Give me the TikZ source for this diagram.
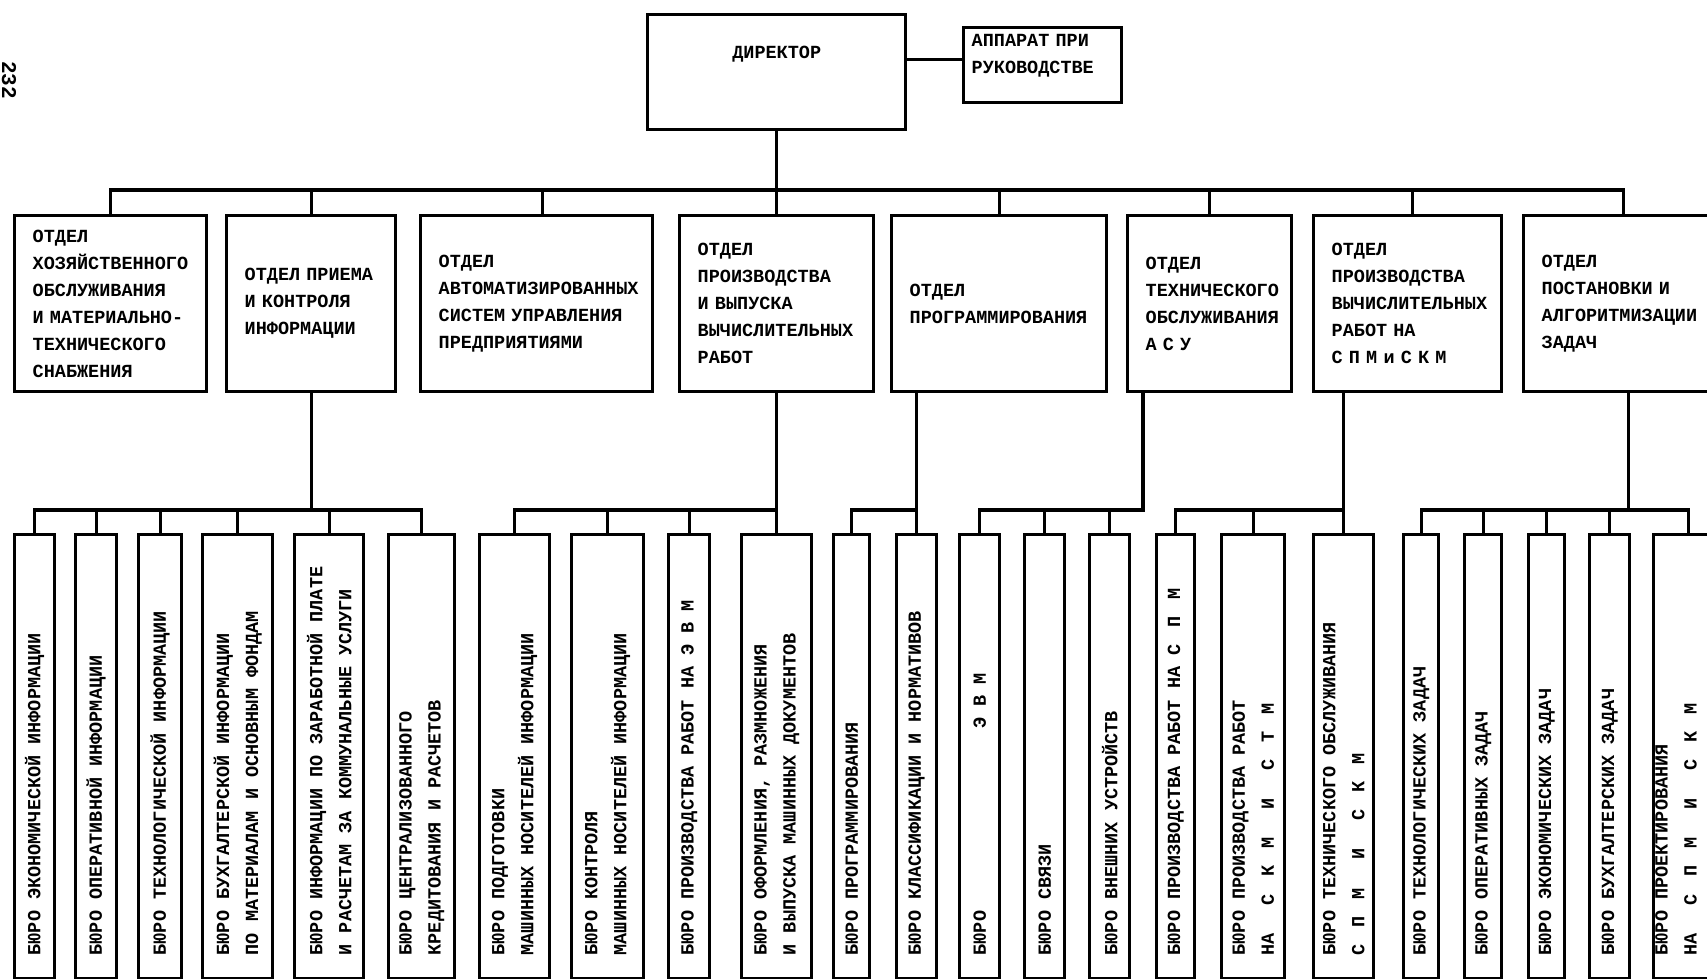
\documentclass[tikz,border=0pt]{standalone}
\usepackage{fontspec}
\newfontfamily\monof{Liberation Mono}
\newcommand\dfont{\monof\bfseries\fontsize{18.5}{27}\selectfont}
\newcommand\bfnt{\monof\bfseries\fontsize{18.5}{29}\selectfont}
\newcommand\sgap{\hspace{17pt}}
\newcommand\lgap{\hspace{28pt}}
\begin{document}
\begin{tikzpicture}[x=1pt,y=-1pt,
  box/.style={draw, line width=3.4pt, rectangle, inner sep=0pt},
  dept/.style={box, anchor=north west, align=left, inner xsep=18pt, inner ysep=3pt, minimum height=176pt, font=\dfont},
  bur/.style={box, anchor=north west, minimum height=444pt},
  btext/.style={rotate=90, anchor=west, align=left, inner sep=0pt, font=\bfnt},
  conn/.style={line width=3.2pt, line join=miter}
]
\fill[white] (0,0) rectangle (1707,979);
\useasboundingbox (0,0) rectangle (1707,979);

% page number
\node[rotate=-90, font=\monof\bfseries\fontsize{21}{21}\selectfont, inner sep=0pt] (pg) at (9,80) {232};

% top
\node[box, anchor=north west, minimum width=258pt, minimum height=115pt, text depth=40pt, font=\dfont] (dir) at (646,13) {ДИРЕКТОР};
\node[box, anchor=north west, minimum width=158pt, minimum height=75pt, text width=142pt, inner xsep=8pt, align=left, font=\dfont] (app) at (962,26) {АППАРАТ~ПРИ\\РУКОВОДСТВЕ\rule[-23pt]{0pt}{23pt}};
\draw[conn] ([yshift=6pt]app.west) -- ([yshift=6pt]app.west -| dir.east);

% departments
\node[dept, text width=156pt] (d1) at (13,214) {ОТДЕЛ\\ХОЗЯЙСТВЕННОГО\\ОБСЛУЖИВАНИЯ\\И~МАТЕРИАЛЬНО-\\ТЕХНИЧЕСКОГО\\СНАБЖЕНИЯ};
\node[dept, text width=133pt] (d2) at (225,214) {ОТДЕЛ~ПРИЕМА\\И~КОНТРОЛЯ\\ИНФОРМАЦИИ};
\node[dept, text width=196pt] (d3) at (419,214) {ОТДЕЛ\\АВТОМАТИЗИРОВАННЫХ\\СИСТЕМ~УПРАВЛЕНИЯ\\ПРЕДПРИЯТИЯМИ};
\node[dept, text width=158pt] (d4) at (678,214) {ОТДЕЛ\\ПРОИЗВОДСТВА\\И~ВЫПУСКА\\ВЫЧИСЛИТЕЛЬНЫХ\\РАБОТ};
\node[dept, text width=179pt] (d5) at (890,214) {ОТДЕЛ\\ПРОГРАММИРОВАНИЯ};
\node[dept, text width=128pt] (d6) at (1126,214) {ОТДЕЛ\\ТЕХНИЧЕСКОГО\\ОБСЛУЖИВАНИЯ\\А~С~У};
\node[dept, text width=152pt] (d7) at (1312,214) {ОТДЕЛ\\ПРОИЗВОДСТВА\\ВЫЧИСЛИТЕЛЬНЫХ\\РАБОТ~НА\\С~П~М~и~С~К~М};
\node[dept, text width=164pt] (d8) at (1522,214) {ОТДЕЛ\\ПОСТАНОВКИ~И\\АЛГОРИТМИЗАЦИИ\\ЗАДАЧ};

% bureaus
\node[bur, minimum width=40pt] (b1) at (13,533) {};
\node[bur, minimum width=41pt] (b2) at (74,533) {};
\node[bur, minimum width=43pt] (b3) at (137,533) {};
\node[bur, minimum width=70pt] (b4) at (201,533) {};
\node[bur, minimum width=69pt] (b5) at (293,533) {};
\node[bur, minimum width=66pt] (b6) at (387,533) {};
\node[bur, minimum width=70pt] (c1) at (478,533) {};
\node[bur, minimum width=72pt] (c2) at (570,533) {};
\node[bur, minimum width=41pt] (c3) at (667,533) {};
\node[bur, minimum width=70pt] (c4) at (740,533) {};
\node[bur, minimum width=36pt] (dd1) at (832,533) {};
\node[bur, minimum width=40pt] (dd2) at (895,533) {};
\node[bur, minimum width=40pt] (e1) at (958,533) {};
\node[bur, minimum width=40pt] (e2) at (1023,533) {};
\node[bur, minimum width=40pt] (e3) at (1088,533) {};
\node[bur, minimum width=38pt] (f1) at (1155,533) {};
\node[bur, minimum width=63pt] (f2) at (1220,533) {};
\node[bur, minimum width=60pt] (f3) at (1312,533) {};
\node[bur, minimum width=35pt] (g1) at (1402,533) {};
\node[bur, minimum width=37pt] (g2) at (1463,533) {};
\node[bur, minimum width=36pt] (g3) at (1527,533) {};
\node[bur, minimum width=40pt] (g4) at (1588,533) {};
\node[bur, minimum width=70pt] (g5) at (1652,533) {};

% bureau texts
\node[btext] at ([yshift=25pt]b1.south) {БЮРО ЭКОНОМИЧЕСКОЙ ИНФОРМАЦИИ};
\node[btext] at ([yshift=25pt]b2.south) {БЮРО ОПЕРАТИВНОЙ ИНФОРМАЦИИ};
\node[btext] at ([yshift=25pt]b3.south) {БЮРО ТЕХНОЛОГИЧЕСКОЙ ИНФОРМАЦИИ};
\node[btext] at ([yshift=25pt]b4.south) {БЮРО БУХГАЛТЕРСКОЙ ИНФОРМАЦИИ\\ПО МАТЕРИАЛАМ И ОСНОВНЫМ ФОНДАМ};
\node[btext] at ([yshift=25pt]b5.south) {БЮРО ИНФОРМАЦИИ ПО ЗАРАБОТНОЙ ПЛАТЕ\\И РАСЧЕТАМ ЗА КОММУНАЛЬНЫЕ УСЛУГИ};
\node[btext] at ([yshift=25pt]b6.south) {БЮРО ЦЕНТРАЛИЗОВАННОГО\\КРЕДИТОВАНИЯ И РАСЧЕТОВ};
\node[btext] at ([yshift=25pt]c1.south) {БЮРО ПОДГОТОВКИ\\МАШИННЫХ НОСИТЕЛЕЙ ИНФОРМАЦИИ};
\node[btext] at ([yshift=25pt]c2.south) {БЮРО КОНТРОЛЯ\\МАШИННЫХ НОСИТЕЛЕЙ ИНФОРМАЦИИ};
\node[btext] at ([yshift=25pt]c3.south) {БЮРО ПРОИЗВОДСТВА РАБОТ НА Э В М};
\node[btext] at ([yshift=25pt]c4.south) {БЮРО ОФОРМЛЕНИЯ, РАЗМНОЖЕНИЯ\\И ВЫПУСКА МАШИННЫХ ДОКУМЕНТОВ};
\node[btext] at ([yshift=25pt]dd1.south) {БЮРО ПРОГРАММИРОВАНИЯ};
\node[btext] at ([yshift=25pt]dd2.south) {БЮРО КЛАССИФИКАЦИИ И НОРМАТИВОВ};
\node[btext] at ([yshift=25pt]e1.south) {БЮРО\hspace{182pt}Э В М};
\node[btext] at ([yshift=25pt]e2.south) {БЮРО СВЯЗИ};
\node[btext] at ([yshift=25pt]e3.south) {БЮРО ВНЕШНИХ УСТРОЙСТВ};
\node[btext] at ([yshift=25pt]f1.south) {БЮРО ПРОИЗВОДСТВА РАБОТ НА С\sgap П\sgap М};
\node[btext] at ([yshift=25pt]f2.south) {БЮРО ПРОИЗВОДСТВА РАБОТ\\НА\lgap С\sgap К\sgap М\lgap И\lgap С\sgap Т\sgap М};
\node[btext] at ([yshift=25pt]f3.south) {БЮРО ТЕХНИЧЕСКОГО ОБСЛУЖИВАНИЯ\\С\sgap П\sgap М\lgap И\lgap С\sgap К\sgap М};
\node[btext] at ([yshift=25pt]g1.south) {БЮРО ТЕХНОЛОГИЧЕСКИХ ЗАДАЧ};
\node[btext] at ([yshift=25pt]g2.south) {БЮРО ОПЕРАТИВНЫХ ЗАДАЧ};
\node[btext] at ([yshift=25pt]g3.south) {БЮРО ЭКОНОМИЧЕСКИХ ЗАДАЧ};
\node[btext] at ([yshift=25pt]g4.south) {БЮРО БУХГАЛТЕРСКИХ ЗАДАЧ};
\node[btext] at ([xshift=24pt,yshift=25pt]g5.south west) {БЮРО ПРОЕКТИРОВАНИЯ\\НА\lgap С\sgap П\sgap М\lgap И\lgap С\sgap К\sgap М};

% top-level connectors
\coordinate (busT) at (0,190);
\coordinate (d3top) at ([xshift=6pt]d3.north);
\coordinate (d7top) at ([xshift=5pt]d7.north);
\draw[conn] (dir.south) -- (dir.south |- busT);
\draw[conn] (d1.north) -- (d1.north |- busT) -- (d8.north |- busT) -- (d8.north);
\foreach \n in {d2,d3top,d4,d5,d6,d7top} \draw[conn] (\n) -- (\n |- busT);

% second-level connectors
\coordinate (busL) at (0,510);
\draw[conn] (d2.south) -- (d2.south |- busL);
\draw[conn] (b1.north) -- (b1.north |- busL) -- (b6.north |- busL) -- (b6.north);
\foreach \n in {b2,b3,b4,b5} \draw[conn] (\n.north) -- (\n.north |- busL);

\draw[conn] (d4.south) -- (c4.north);
\draw[conn] (c1.north) -- (c1.north |- busL) -- (c4.north |- busL);
\foreach \n in {c2,c3} \draw[conn] (\n.north) -- (\n.north |- busL);

\draw[conn] (dd2.north |- d5.south) -- (dd2.north);
\draw[conn] (dd1.north) -- (dd1.north |- busL) -- (dd2.north |- busL);

\coordinate (d6drop) at ([xshift=17pt]d6.south west);
\draw[conn] (d6drop) -- (d6drop |- busL) -- (e1.north |- busL) -- (e1.north);
\foreach \n in {e2,e3} \draw[conn] (\n.north) -- (\n.north |- busL);

\draw[conn] (f3.north |- d7.south) -- (f3.north);
\draw[conn] (f1.north) -- (f1.north |- busL) -- (f3.north |- busL);
\draw[conn] (f2.north) -- (f2.north |- busL);

\coordinate (d8drop) at ([xshift=5pt]d8.south);
\draw[conn] (d8drop) -- (d8drop |- busL);
\draw[conn] (g1.north) -- (g1.north |- busL) -- (g5.north |- busL) -- (g5.north);
\foreach \n in {g2,g3,g4} \draw[conn] (\n.north) -- (\n.north |- busL);
\end{tikzpicture}
\end{document}
